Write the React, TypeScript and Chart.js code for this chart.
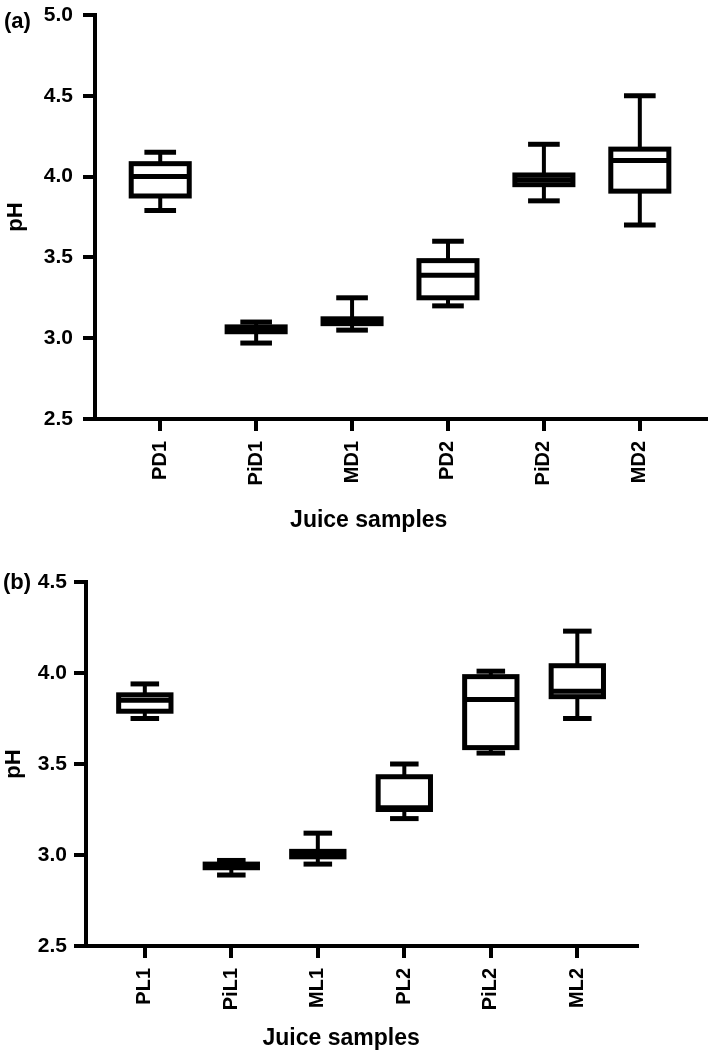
import React, { useEffect, useRef } from 'react';
import { Chart, registerables } from 'chart.js';

Chart.register(...registerables);

// ---------- Panel (a) ----------
const labelsA = ['PD1', 'PiD1', 'MD1', 'PD2', 'PiD2', 'MD2'];
const minA = [3.79, 2.97, 3.05, 3.2, 3.85, 3.7];
const q1A = [3.88, 3.04, 3.09, 3.25, 3.95, 3.91];
const medA = [4.0, 3.05, 3.11, 3.39, 3.98, 4.1];
const q3A = [4.08, 3.07, 3.12, 3.48, 4.01, 4.17];
const maxA = [4.15, 3.1, 3.25, 3.6, 4.2, 4.5];
const yMinA = 2.5;
const yMaxA = 5.0;

// ---------- Panel (b) ----------
const labelsB = ['PL1', 'PiL1', 'ML1', 'PL2', 'PiL2', 'ML2'];
const minB = [3.75, 2.89, 2.95, 3.2, 3.56, 3.75];
const q1B = [3.79, 2.93, 2.99, 3.25, 3.59, 3.87];
const medB = [3.85, 2.94, 3.0, 3.26, 3.855, 3.9];
const q3B = [3.88, 2.95, 3.02, 3.43, 3.98, 4.04];
const maxB = [3.94, 2.97, 3.12, 3.5, 4.01, 4.23];
const yMinB = 2.5;
const yMaxB = 4.5;

const yStep = 0.5;
const xTitle = 'Juice samples';
const yTitle = 'pH';

const FONT = "'Liberation Sans', Arial, sans-serif";
Chart.defaults.font.family = FONT;
Chart.defaults.color = '#000';

type Stats = { mins: number[]; q1: number[]; med: number[]; q3: number[]; maxs: number[] };

function makeBoxPlugin(stats: Stats, panel: string, panelX: number, panelY: number, titleFrac: number, titleDy: number) {
  return {
    id: 'boxes',
    afterDatasetsDraw(chart: any) {
      const { ctx, scales } = chart;
      const x = scales.x;
      const y = scales.y;
      const step = x.getPixelForValue(1) - x.getPixelForValue(0);
      const bw = step * 0.605;
      const cw = step * 0.33;
      ctx.save();
      ctx.strokeStyle = '#000';
      ctx.lineCap = 'butt';
      const line = (x1: number, y1: number, x2: number, y2: number, w: number) => {
        ctx.lineWidth = w;
        ctx.beginPath();
        ctx.moveTo(x1, y1);
        ctx.lineTo(x2, y2);
        ctx.stroke();
      };
      for (let i = 0; i < stats.med.length; i++) {
        const cx = x.getPixelForValue(i);
        const pMin = y.getPixelForValue(stats.mins[i]);
        const pQ1 = y.getPixelForValue(stats.q1[i]);
        const pMed = y.getPixelForValue(stats.med[i]);
        const pQ3 = y.getPixelForValue(stats.q3[i]);
        const pMax = y.getPixelForValue(stats.maxs[i]);
        line(cx, pMax, cx, pQ3, 4);
        line(cx, pQ1, cx, pMin, 4);
        line(cx - cw / 2, pMax, cx + cw / 2, pMax, 5);
        line(cx - cw / 2, pMin, cx + cw / 2, pMin, 5);
        ctx.fillStyle = '#fff';
        ctx.fillRect(cx - bw / 2, pQ3, bw, pQ1 - pQ3);
        ctx.lineWidth = 5;
        ctx.strokeRect(cx - bw / 2, pQ3, bw, pQ1 - pQ3);
        line(cx - bw / 2, pMed, cx + bw / 2, pMed, 5);
      }
      ctx.restore();
    },
    afterDraw(chart: any) {
      const { ctx, chartArea } = chart;
      ctx.save();
      ctx.fillStyle = '#000';
      ctx.textBaseline = 'alphabetic';
      ctx.font = `bold 23px ${FONT}`;
      ctx.textAlign = 'center';
      ctx.fillText(xTitle, chartArea.left + titleFrac * (chartArea.right - chartArea.left), chartArea.bottom + titleDy);
      ctx.font = `bold 22px ${FONT}`;
      ctx.textAlign = 'left';
      ctx.fillText(panel, panelX, panelY);
      ctx.restore();
    },
  };
}

function makeConfig(
  labels: string[],
  stats: Stats,
  yMin: number,
  yMax: number,
  padding: any,
  yWidth: number,
  xHeight: number,
  yTickPad: number,
  yTitlePad: number,
  plugin: any
): any {
  return {
    type: 'scatter',
    data: {
      datasets: [
        {
          data: stats.med.map((m, i) => ({ x: i, y: m })),
          pointRadius: 0,
          pointHoverRadius: 0,
          showLine: false,
        },
      ],
    },
    options: {
      animation: false,
      responsive: false,
      devicePixelRatio: 1,
      layout: { padding, autoPadding: false },
      plugins: { legend: { display: false }, tooltip: { enabled: false } },
      events: [],
      scales: {
        x: {
          type: 'linear',
          min: -0.68,
          max: labels.length - 1 + 0.69,
          afterBuildTicks: (s: any) => {
            s.ticks = labels.map((_, i) => ({ value: i }));
          },
          afterFit: (s: any) => {
            s.height = xHeight;
            s.paddingLeft = 0;
            s.paddingRight = 0;
          },
          ticks: {
            callback: (v: any) => labels[Math.round(Number(v))] ?? '',
            minRotation: 90,
            maxRotation: 90,
            autoSkip: false,
            padding: 10,
            color: '#000',
            font: { family: FONT, weight: 'bold', size: 20 },
          },
          grid: {
            drawOnChartArea: false,
            drawTicks: true,
            tickLength: 12,
            tickWidth: 4,
            tickColor: '#000',
            lineWidth: 4,
            color: '#000',
          },
          border: { display: true, width: 4, color: '#000' },
        },
        y: {
          type: 'linear',
          min: yMin,
          max: yMax,
          afterFit: (s: any) => {
            s.width = yWidth;
            s.paddingTop = 0;
            s.paddingBottom = 0;
          },
          ticks: {
            stepSize: yStep,
            callback: (v: any) => Number(v).toFixed(1),
            padding: yTickPad,
            color: '#000',
            font: { family: FONT, weight: 'bold', size: 21 },
          },
          grid: {
            drawOnChartArea: false,
            drawTicks: true,
            tickLength: 12,
            tickWidth: 4,
            tickColor: '#000',
            lineWidth: 4,
            color: '#000',
          },
          border: { display: true, width: 4, color: '#000' },
          title: {
            display: true,
            text: yTitle,
            color: '#000',
            font: { family: FONT, weight: 'bold', size: 22 },
            padding: { top: yTitlePad, bottom: 0 },
          },
        },
      },
    },
    plugins: [plugin],
  };
}

export default function App() {
  const refA = useRef<HTMLCanvasElement>(null);
  const refB = useRef<HTMLCanvasElement>(null);

  useEffect(() => {
    const statsA: Stats = { mins: minA, q1: q1A, med: medA, q3: q3A, maxs: maxA };
    const statsB: Stats = { mins: minB, q1: q1B, med: medB, q3: q3B, maxs: maxB };
    const chartA = new Chart(
      refA.current as HTMLCanvasElement,
      makeConfig(
        labelsA,
        statsA,
        yMinA,
        yMaxA,
        { left: 0, top: 15, right: 3, bottom: 528 },
        95,
        109,
        10,
        3,
        makeBoxPlugin(statsA, '(a)', 4, 28, 0.448, 108)
      )
    );
    const chartB = new Chart(
      refB.current as HTMLCanvasElement,
      makeConfig(
        labelsB,
        statsB,
        yMinB,
        yMaxB,
        { left: 0, top: 582, right: 72, bottom: 0 },
        86,
        110,
        7,
        1,
        makeBoxPlugin(statsB, '(b)', 3, 589, 0.463, 99)
      )
    );
    return () => {
      chartA.destroy();
      chartB.destroy();
    };
  }, []);

  return (
    <div style={{ position: 'fixed', left: 0, top: 0, width: 709, height: 1056, background: '#fff' }}>
      <canvas ref={refA} width={709} height={1056} style={{ position: 'absolute', left: 0, top: 0 }} />
      <canvas ref={refB} width={709} height={1056} style={{ position: 'absolute', left: 0, top: 0 }} />
    </div>
  );
}
